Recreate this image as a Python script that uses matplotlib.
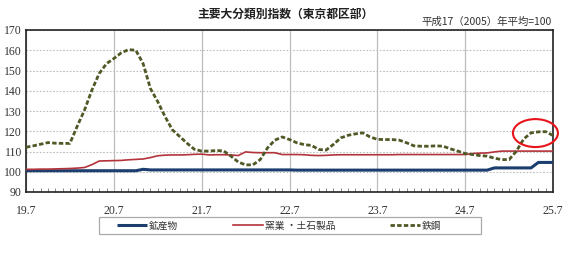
import matplotlib
matplotlib.use("Agg")
import matplotlib.pyplot as plt
from matplotlib.patches import Ellipse, Rectangle
import numpy as np

plt.rcParams['font.family'] = ['Noto Sans CJK JP', 'DejaVu Sans']

# --- data (monthly, H19.7 .. H25.7) ---
tick_labels = ["19.7", "20.7", "21.7", "22.7", "23.7", "24.7", "25.7"]
y_ticks = [90, 100, 110, 120, 130, 140, 150, 160, 170]
series_names = ["鉱産物", "窯業 ・土石製品", "鉄鋼"]

mining = [100.5] * 16 + [101.2] + [100.9] * 20 + [100.8] * 27 + [101.9] * 6 + [104.6] * 3

ceramics = [101.2, 101.2, 101.3, 101.3, 101.4, 101.5, 101.6, 101.8, 102.1, 103.5,
            105.3, 105.4, 105.5, 105.6, 105.9, 106.1, 106.3, 107.0, 107.9, 108.2,
            108.3, 108.3, 108.4, 108.6, 108.7, 108.3, 108.4, 108.4, 108.3, 108.0,
            109.8, 109.5, 109.4, 109.4, 109.4, 108.5, 108.5, 108.5, 108.4, 108.1,
            108.0, 108.1, 108.3, 108.4, 108.4, 108.4, 108.4, 108.4, 108.4, 108.4,
            108.4, 108.5, 108.5, 108.5, 108.5, 108.5, 108.5, 108.5, 108.5, 108.5,
            108.5, 109.0, 109.2, 109.3, 109.8, 110.2, 110.2, 110.2, 110.2, 110.2,
            110.2, 110.2, 110.2]

steel = [112.1, 112.8, 113.6, 114.4, 114.1, 114.0, 114.0, 122.5, 130.5, 140.3,
         148.5, 153.4, 155.9, 158.7, 160.3, 160.0, 153.4, 141.1, 134.6, 127.2,
         120.7, 117.4, 114.1, 111.1, 110.2, 110.2, 110.5, 110.3, 107.7, 104.8,
         103.4, 103.4, 106.0, 111.8, 115.6, 117.2, 115.9, 114.3, 113.4, 113.0,
         111.0, 110.7, 113.5, 116.7, 118.0, 118.7, 119.2, 117.2, 116.0, 115.9,
         115.9, 115.6, 114.3, 112.8, 112.6, 112.6, 112.8, 112.6, 111.3, 110.2,
         109.0, 108.5, 108.0, 107.7, 106.7, 106.0, 106.0, 110.2, 116.2, 119.2,
         119.7, 119.8, 117.9]

months = np.arange(len(steel))

W, H = 567, 260
fig = plt.figure(figsize=(W / 100, H / 100), dpi=100)
ax = fig.add_axes([26 / W, 1 - 192 / H, 527 / W, 162 / H])

c_blue = '#1B3E6F'
c_red = '#B3333B'
c_olive = '#4E5A26'

l1, = ax.plot(months, mining, color=c_blue, lw=2.2, solid_capstyle='butt', zorder=3)
l2, = ax.plot(months, ceramics, color=c_red, lw=1.2, zorder=3)
l3, = ax.plot(months, steel, color=c_olive, lw=2.0, linestyle=(0, (1.6, 0.8)),
              dash_capstyle='butt', zorder=4)

ax.set_xlim(0, 72)
ax.set_ylim(90, 170)
ax.set_xticks(np.arange(0, 73, 12))
ax.set_xticklabels(tick_labels, family=['Liberation Serif'], fontsize=8.5, color='#333333')
ax.set_xticks(np.arange(0, 73, 1), minor=True)
ax.set_yticks(y_ticks)
ax.set_yticklabels([str(v) for v in y_ticks], family=['Liberation Serif'], fontsize=8.5,
                   color='#333333')
ax.tick_params(axis='x', which='major', length=0, pad=9)
ax.tick_params(axis='x', which='minor', direction='in', length=3, width=0.6, color='#777777')
ax.tick_params(axis='y', which='major', length=0, pad=3)

ax.grid(axis='x', which='major', color='#BDBDBD', lw=0.9, linestyle='-')
ax.grid(axis='y', which='major', color='#BDBDBD', lw=0.8, linestyle=(0, (1.5, 1.5)))
ax.set_axisbelow(True)
for s in ax.spines.values():
    s.set_color('#222222')
    s.set_linewidth(1.2)

# red highlight ellipse
ell = Ellipse((69.6, 119.1), width=6.15, height=13.8, fill=False, edgecolor='#E8141C',
              lw=1.5, transform=ax.transData, clip_on=False, zorder=6)
ax.add_patch(ell)

# title and note
fig.text(286 / W, 1 - 14 / H, "主要大分類別指数（東京都区部）", ha='center', va='center',
         fontsize=8.5, fontweight='bold', color='#222222')
fig.text(552 / W, 1 - 21.5 / H, "平成17（2005）年平均=100", ha='right', va='center',
         fontsize=7.5, color='#333333')

# legend
fig.add_artist(Rectangle((99 / W, 1 - 234 / H), 382 / W, 17 / H, transform=fig.transFigure,
                         fill=False, edgecolor='#AAAAAA', lw=0.9))
leg = fig.legend([l1, l2, l3], series_names, ncol=3, frameon=False,
                 loc='center left', bbox_to_anchor=(117 / W, 1 - 225.5 / H),
                 borderaxespad=0, borderpad=0.0, handlelength=3.1, handletextpad=0.2,
                 columnspacing=5.6, fontsize=7)
for t in leg.get_texts():
    t.set_color('#333333')

fig.savefig('out.png', dpi=100)
